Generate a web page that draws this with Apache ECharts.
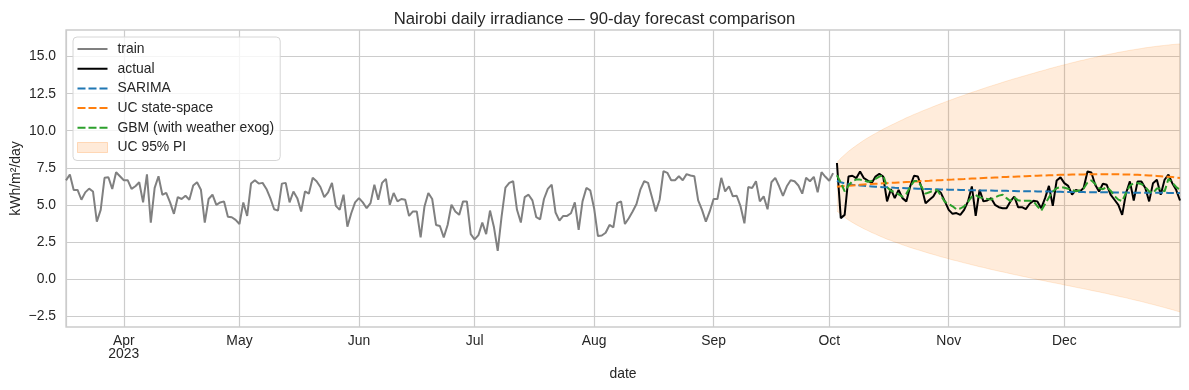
<!DOCTYPE html>
<html><head><meta charset="utf-8">
<script src="https://cdn.jsdelivr.net/npm/echarts@6/dist/echarts.min.js"></script>
<style>html,body{margin:0;padding:0;background:#fff}#c{width:1189px;height:390px}</style>
</head><body><div id="c"></div>
<script>
const trainStart = [2023, 2, 17];
const actualStart = [2023, 9, 3];
const axisStart = [2023, 2, 17];
const axisEnd = [2023, 11, 31];

const train = [6.65,7.05,6.0,6.0,5.34,5.84,6.09,5.9,3.86,4.66,
6.82,6.86,6.07,7.2,6.93,6.66,6.66,6.07,6.25,6.52,
5.16,7.05,3.8,6.14,6.93,5.68,5.8,5.16,4.39,5.52,
5.39,5.61,5.34,6.3,6.52,6.02,3.8,5.39,5.68,5.0,
5.16,5.23,4.2,4.16,3.98,3.7,5.16,4.25,6.43,6.66,
6.43,6.48,6.07,5.45,4.7,4.61,6.43,6.48,5.16,5.9,
5.45,4.55,5.9,5.75,6.82,6.59,6.2,5.52,5.84,6.48,
4.93,4.66,5.68,3.52,4.43,5.16,5.45,5.16,4.77,5.11,
6.36,5.34,6.48,6.75,5.0,5.8,5.23,5.39,5.34,4.25,
4.55,4.55,2.8,4.89,5.8,5.39,3.64,3.57,2.8,3.64,
5.0,4.55,4.32,5.23,5.23,3.02,2.66,2.95,3.8,3.02,
4.61,3.52,1.89,4.2,6.16,6.48,6.59,4.66,3.8,5.52,
5.68,5.3,4.16,4.02,5.39,6.07,6.36,4.48,3.93,4.25,
4.25,4.43,5.16,3.3,5.23,6.14,5.98,4.77,2.89,2.93,
3.11,3.64,3.48,5.11,5.23,3.7,4.09,4.55,5.05,6.02,
6.59,6.48,5.52,4.55,5.34,7.27,7.16,6.66,6.66,6.93,
6.66,7.07,6.98,6.93,5.3,4.66,3.86,4.55,5.39,5.39,
6.82,5.9,6.25,5.57,5.61,4.89,3.75,6.2,6.14,6.59,
5.23,5.57,4.7,6.52,6.82,6.25,5.61,6.25,6.66,6.59,
6.3,5.75,6.82,6.59,6.89,5.84,7.2,6.89,6.62,7.14];

const actual = [7.82,4.1,4.32,6.91,6.96,6.8,7.25,6.8,6.64,6.46,
6.91,7.09,6.91,5.23,6.06,5.45,6.01,5.45,5.23,6.24,
6.96,6.91,6.13,5.11,5.34,5.56,6.01,5.79,5.23,4.66,
4.39,4.44,4.32,4.66,5.23,6.24,4.26,6.01,5.23,5.29,
5.45,5.0,4.84,4.77,4.77,5.23,5.56,4.84,4.84,4.71,
5.07,5.27,5.23,4.77,5.45,6.28,4.93,6.64,6.85,6.46,
6.28,5.68,6.01,5.9,6.13,7.25,7.18,6.35,5.9,6.42,
6.35,5.68,5.34,5.0,4.32,5.79,6.58,5.29,6.58,6.58,
6.13,5.23,6.46,6.69,5.68,6.69,7.03,6.46,6.01,5.29];

const sarima = [6.62,6.52,6.45,6.40,6.36,6.33,6.30,6.28,6.26,6.24,
6.22,6.21,6.19,6.18,6.17,6.15,6.14,6.13,6.12,6.11,
6.10,6.09,6.08,6.07,6.06,6.05,6.05,6.04,6.03,6.02,
6.02,6.01,6.00,6.00,5.99,5.98,5.98,5.97,5.97,5.96,
5.96,5.95,5.95,5.94,5.94,5.93,5.93,5.92,5.92,5.91,
5.91,5.91,5.90,5.90,5.89,5.89,5.89,5.88,5.88,5.87,
5.87,5.87,5.86,5.86,5.86,5.85,5.85,5.85,5.84,5.84,
5.84,5.84,5.83,5.83,5.83,5.83,5.82,5.82,5.82,5.82,
5.82,5.81,5.81,5.81,5.81,5.81,5.80,5.80,5.80,5.80];

const ucMean = [6.22,6.25,6.27,6.29,6.31,6.33,6.35,6.37,6.39,6.40,
6.42,6.43,6.45,6.46,6.48,6.49,6.51,6.52,6.54,6.55,
6.57,6.58,6.60,6.61,6.62,6.64,6.65,6.66,6.68,6.69,
6.70,6.72,6.73,6.74,6.76,6.77,6.78,6.79,6.81,6.82,
6.83,6.84,6.85,6.87,6.88,6.89,6.90,6.91,6.92,6.93,
6.94,6.95,6.96,6.97,6.98,6.99,7.00,7.01,7.02,7.02,
7.03,7.04,7.04,7.05,7.05,7.06,7.06,7.06,7.07,7.07,
7.07,7.06,7.06,7.06,7.05,7.05,7.04,7.03,7.02,7.01,
7.00,6.98,6.97,6.95,6.93,6.91,6.89,6.87,6.84,6.81];

const gbm = [7.0,6.5,5.9,6.3,6.6,6.7,6.7,6.65,6.55,6.6,
6.75,6.9,7.0,6.2,5.95,5.85,5.7,5.55,5.75,6.2,
6.6,6.6,6.2,5.75,5.85,5.95,6.0,5.6,5.2,5.05,
4.9,4.7,4.75,4.9,5.2,5.55,5.65,5.5,5.45,5.4,
5.35,5.5,5.62,5.68,5.45,5.25,5.5,5.3,5.25,5.28,
5.27,5.23,4.9,4.6,5.05,5.5,5.9,6.12,6.2,6.15,
6.08,6.0,5.92,5.98,6.1,6.5,6.65,6.4,6.12,6.05,
6.2,5.95,5.6,5.35,5.25,5.8,6.3,6.45,6.46,6.4,
6.2,5.9,5.8,6.1,6.1,5.9,6.75,6.5,6.2,6.0];

const piLower = [4.58,4.36,4.16,3.97,3.81,3.66,3.52,3.38,3.26,3.13,
3.02,2.90,2.79,2.68,2.59,2.49,2.40,2.30,2.21,2.12,
2.04,1.96,1.88,1.80,1.72,1.65,1.57,1.49,1.43,1.35,
1.28,1.22,1.15,1.08,1.02,0.95,0.89,0.82,0.77,0.70,
0.64,0.58,0.52,0.47,0.41,0.35,0.29,0.24,0.18,0.13,
0.07,0.02,-0.04,-0.09,-0.14,-0.20,-0.25,-0.30,-0.35,-0.41,
-0.46,-0.51,-0.57,-0.62,-0.67,-0.72,-0.78,-0.83,-0.88,-0.94,
-0.99,-1.06,-1.11,-1.17,-1.23,-1.28,-1.35,-1.41,-1.47,-1.53,
-1.60,-1.67,-1.73,-1.80,-1.87,-1.94,-2.01,-2.08,-2.16,-2.24];

const piUpper = [7.86,8.14,8.38,8.61,8.81,9.00,9.18,9.36,9.52,9.67,
9.82,9.96,10.11,10.24,10.37,10.49,10.62,10.74,10.87,10.98,
11.10,11.20,11.32,11.42,11.52,11.63,11.73,11.83,11.93,12.03,
12.12,12.22,12.31,12.40,12.50,12.59,12.67,12.76,12.85,12.94,
13.02,13.10,13.18,13.27,13.35,13.43,13.51,13.58,13.66,13.73,
13.81,13.88,13.96,14.03,14.10,14.18,14.25,14.32,14.39,14.45,
14.52,14.59,14.65,14.72,14.77,14.84,14.90,14.95,15.02,15.08,
15.13,15.18,15.23,15.29,15.33,15.38,15.43,15.47,15.51,15.55,
15.60,15.63,15.67,15.70,15.73,15.76,15.79,15.82,15.84,15.86];

const yTicks = [-2.5, 0, 2.5, 5, 7.5, 10, 12.5, 15];
const yMin = -3.25, yMax = 16.8;
const monthNames = ['Jan','Feb','Mar','Apr','May','Jun','Jul','Aug','Sep','Oct','Nov','Dec'];

function dayTs(s, i) { return new Date(s[0], s[1], s[2] + i).getTime(); }
function dated(s, vals) { return vals.map((v, i) => [dayTs(s, i), v]); }

const TXT = '#262626', GRID = '#cccccc', FONT = 'Liberation Sans, Arial, sans-serif';
const dash = [7.7, 3.3];
// legend icons: 30x10 box, 2px stroke in the middle
const ICON_SOLID = 'path://M0,0L30,0M0,10L30,10M0,4h30v2h-30z';
const ICON_DASH = 'path://M0,0L30,0M0,10L30,10M0,4h8v2h-8zM11,4h8v2h-8zM22,4h8v2h-8z';

const chart = echarts.init(document.getElementById('c'), null, {renderer: 'canvas'});
chart.setOption({
  animation: false,
  backgroundColor: '#ffffff',
  textStyle: {fontFamily: FONT, color: TXT},
  title: {
    text: 'Nairobi daily irradiance — 90-day forecast comparison',
    left: 'center', top: 6,
    textStyle: {fontSize: 16.7, fontWeight: 'normal', color: TXT, fontFamily: FONT}
  },
  grid: {left: 66, right: 9, top: 30, bottom: 63, outerBoundsMode: 'none', containLabel: false,
    show: true, borderColor: GRID, borderWidth: 1.3, backgroundColor: 'transparent'},
  legend: {
    orient: 'vertical', left: 73, top: 37,
    padding: [5, 6, 6, 4],
    itemWidth: 30, itemHeight: 10, itemGap: 5.7,
    symbolKeepAspect: false,
    itemStyle: {borderWidth: 0},
    backgroundColor: 'rgba(255,255,255,0.8)', borderColor: '#d6d6d6', borderWidth: 1, borderRadius: 4,
    textStyle: {fontSize: 13.9, color: TXT, fontFamily: FONT, padding: [0, 0, 0, 5]},
    data: [
      {name: 'train', icon: ICON_SOLID, itemStyle: {color: '#808080', borderWidth: 0}},
      {name: 'actual', icon: ICON_SOLID, itemStyle: {color: '#000000', borderWidth: 0}},
      {name: 'SARIMA', icon: ICON_DASH, itemStyle: {color: '#1f77b4', borderWidth: 0}},
      {name: 'UC state-space', icon: ICON_DASH, itemStyle: {color: '#ff7f0e', borderWidth: 0}},
      {name: 'GBM (with weather exog)', icon: ICON_DASH, itemStyle: {color: '#2ca02c', borderWidth: 0}},
      {name: 'UC 95% PI', icon: 'rect', itemStyle: {color: 'rgba(255,127,14,0.16)', borderColor: 'rgba(255,127,14,0.25)', borderWidth: 1}}
    ]
  },
  xAxis: {
    type: 'time',
    min: dayTs(axisStart, 0), max: dayTs(axisEnd, 0),
    splitNumber: 10,
    name: 'date', nameLocation: 'middle', nameGap: 40,
    nameTextStyle: {fontSize: 13.9, color: TXT, fontFamily: FONT},
    axisLine: {show: false}, axisTick: {show: false},
    axisLabel: {
      color: TXT, fontSize: 13.9, fontFamily: FONT, margin: 8, lineHeight: 13,
      showMinLabel: false, showMaxLabel: false,
      formatter: function (v) {
        const d = new Date(v);
        if (d.getDate() !== 1) return '';
        const m = monthNames[d.getMonth()];
        return d.getMonth() === 3 ? m + '\n' + d.getFullYear() : m;
      }
    },
    splitLine: {show: true, lineStyle: {color: GRID, width: 1.2}}
  },
  yAxis: {
    type: 'value', min: yMin, max: yMax,
    name: 'kWh/m²/day', nameLocation: 'middle', nameGap: 43, nameMoveOverlap: false,
    nameTextStyle: {fontSize: 14, color: TXT, fontFamily: FONT},
    axisLine: {show: false},
    axisTick: {show: false, customValues: yTicks},
    axisLabel: {
      customValues: yTicks, color: TXT, fontSize: 13.9, fontFamily: FONT, margin: 10,
      formatter: v => v.toFixed(1).replace('-', '\u2212')
    },
    splitLine: {show: true, lineStyle: {color: GRID, width: 1.2}}
  },
  series: [
    {
      name: 'piBase', type: 'line', stack: 'pi', stackStrategy: 'all', symbol: 'none', silent: true,
      data: dated(actualStart, piLower),
      lineStyle: {color: 'rgba(255,127,14,0.15)', width: 1}, z: 1
    },
    {
      name: 'UC 95% PI', type: 'line', stack: 'pi', stackStrategy: 'all', symbol: 'none', silent: true,
      data: dated(actualStart, piUpper.map((u, i) => u - piLower[i])),
      lineStyle: {color: 'rgba(255,127,14,0.15)', width: 1},
      itemStyle: {color: 'rgba(255,127,14,0.16)'},
      areaStyle: {color: 'rgba(255,127,14,0.15)', opacity: 1}, z: 1
    },
    {name: 'train', type: 'line', symbol: 'none', data: dated(trainStart, train),
      lineStyle: {color: '#808080', width: 2}, itemStyle: {color: '#808080'}, z: 3},
    {name: 'actual', type: 'line', symbol: 'none', data: dated(actualStart, actual),
      lineStyle: {color: '#000000', width: 2}, itemStyle: {color: '#000000'}, z: 3},
    {name: 'SARIMA', type: 'line', symbol: 'none', data: dated(actualStart, sarima),
      lineStyle: {color: '#1f77b4', width: 2, type: dash}, itemStyle: {color: '#1f77b4'}, z: 4},
    {name: 'UC state-space', type: 'line', symbol: 'none', data: dated(actualStart, ucMean),
      lineStyle: {color: '#ff7f0e', width: 2, type: dash}, itemStyle: {color: '#ff7f0e'}, z: 4},
    {name: 'GBM (with weather exog)', type: 'line', symbol: 'none', data: dated(actualStart, gbm),
      lineStyle: {color: '#2ca02c', width: 2, type: dash}, itemStyle: {color: '#2ca02c'}, z: 4}
  ]
});
</script></body></html>
